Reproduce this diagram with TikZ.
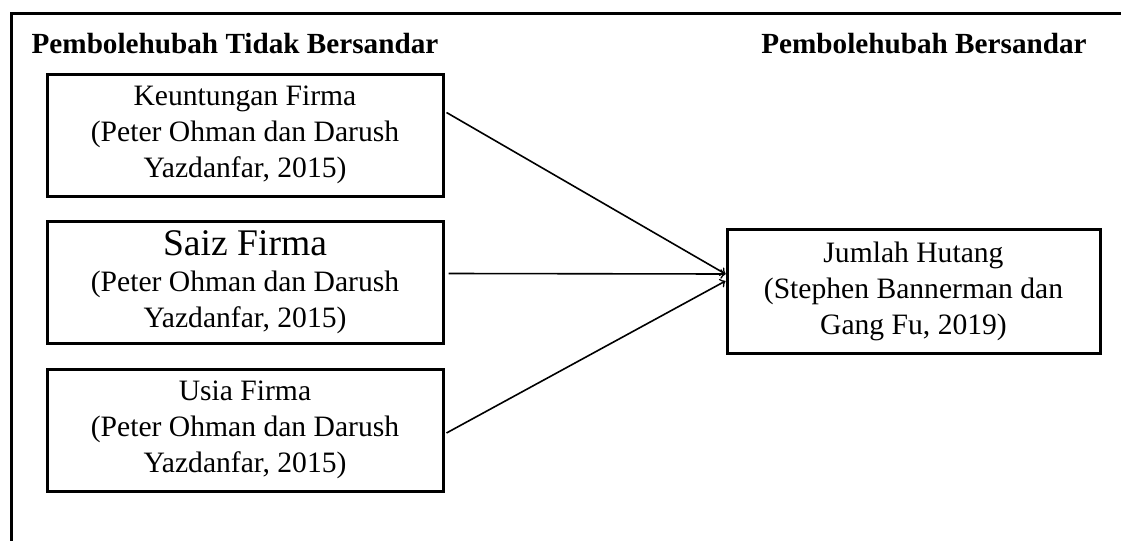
\documentclass[tikz,border=0pt]{standalone}
\usepackage{fontspec}
\setmainfont{Liberation Serif}
\usetikzlibrary{positioning, arrows}
\tikzset{
    x=0.5pt, y=-0.5pt, % one unit is one pixel of the sketch, y runs down
    node distance=73.75pt, % centre to centre distance of the three boxes on the left
    >=to, % arrow tip of the connectors
    }

\begin{document}
\begin{tikzpicture}[varbox/.style={draw, line width=1.5pt, minimum width=198pt, minimum height=61pt, align=center, font=\fontsize{14.8}{18}\selectfont}, headnode/.style={anchor=base, font=\bfseries\fontsize{14.6}{17.5}\selectfont}]
\useasboundingbox (0,0) rectangle (1121,541);
\draw[line width=1.5pt] (11,541) -- (11,13) -- (1121,13);

\node[headnode] (bebas) at (235,53) {Pembolehubah Tidak Bersandar};
\node[headnode] (sandar) at (924,53) {Pembolehubah Bersandar};

\node[varbox] (untung) at (245,135) {Keuntungan Firma\\(Peter Ohman dan Darush\\Yazdanfar, 2015)};
\node[varbox, below of=untung] (saiz) {{\fontsize{18.8}{20}\selectfont Saiz Firma}\\(Peter Ohman dan Darush\\Yazdanfar, 2015)};
\node[varbox, below of=saiz] (usia) {Usia Firma\\(Peter Ohman dan Darush\\Yazdanfar, 2015)};
\node[varbox, minimum width=186.5pt, minimum height=62pt] (hutang) at (913.5,291) {Jumlah Hutang\\(Stephen Bannerman dan\\Gang Fu, 2019)};

\draw[->, line width=0.8pt] ([xshift=1pt, yshift=11.25pt]untung.east) -- ([yshift=8.5pt]hutang.west);
\draw[->, line width=0.8pt] ([xshift=2pt, yshift=4.5pt]saiz.east) -- ([yshift=8.5pt]hutang.west);
\draw[->, line width=0.8pt] ([xshift=1pt, yshift=-1.5pt]usia.east) -- ([yshift=5pt]hutang.west);
\end{tikzpicture}
\end{document}
